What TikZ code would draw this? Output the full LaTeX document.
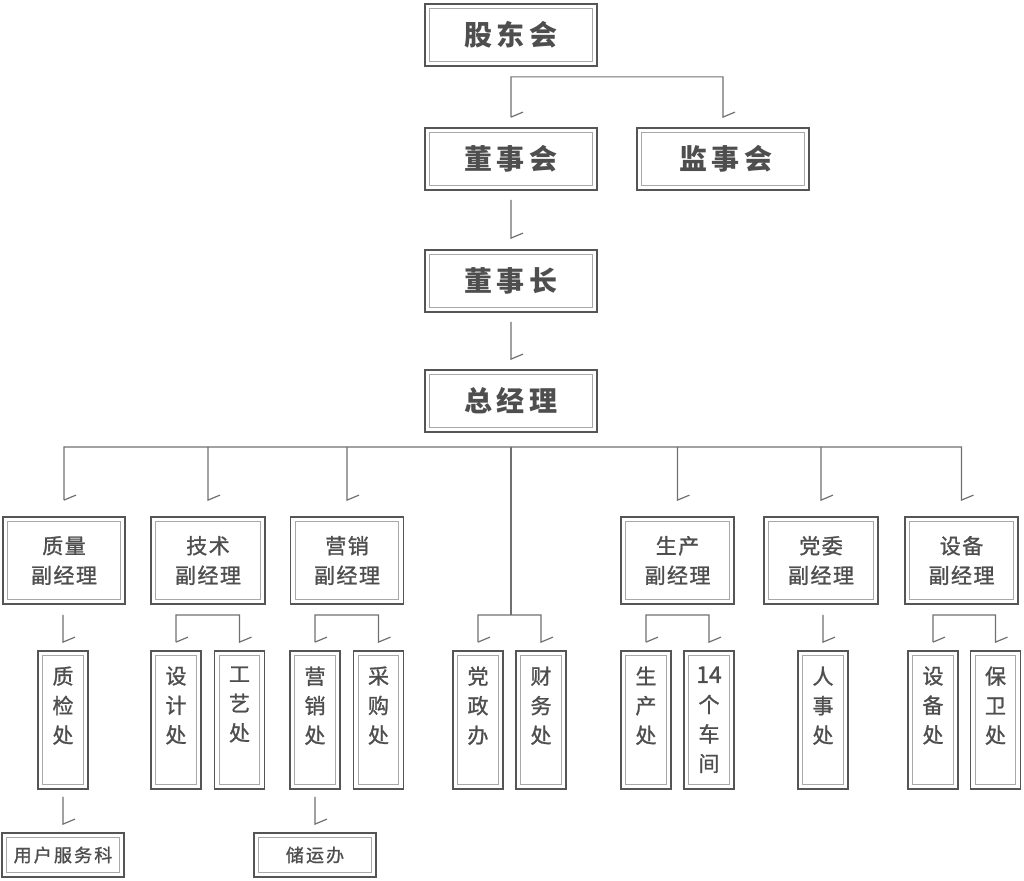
\documentclass[tikz,border=0pt]{standalone}
\usepackage{fontspec}
\newfontfamily\cjk{Noto Sans CJK SC}
\newfontfamily\cjkm{Noto Sans CJK SC}[FakeBold=1.2]
\definecolor{bord}{HTML}{555555}
\definecolor{inn}{HTML}{A8A8A8}
\definecolor{txt}{HTML}{4E4E4E}
\definecolor{ln}{HTML}{707070}
\begin{document}
\begin{tikzpicture}[x=1pt,y=-1pt,
  box/.style={draw=bord, line width=1.8pt, inner sep=0pt, text=txt, align=center,
    path picture={\draw[inn, line width=0.9pt]
      ([shift={(4.6pt,4.6pt)}]path picture bounding box.south west) rectangle
      ([shift={(-4.6pt,-4.6pt)}]path picture bounding box.north east);}},
  topbox/.style={box, minimum width=172pt, minimum height=62pt,
    font=\cjk\bfseries\fontsize{28}{30}\selectfont\addfontfeature{LetterSpace=15}},
  midbox/.style={box, minimum width=#1, minimum height=87pt,
    font=\cjkm\fontsize{21}{29.5}\selectfont\addfontfeature{LetterSpace=7}},
  vbox/.style={box, minimum width=50pt, minimum height=138pt,
    font=\cjkm\fontsize{21}{29.5}\selectfont},
  lowbox/.style={box, minimum width=122pt, minimum height=44pt,
    font=\cjkm\fontsize{18}{20}\selectfont\addfontfeature{LetterSpace=12}},
  conn/.style={draw=ln, line width=1.2pt, line join=miter}
]
\useasboundingbox (0,0) rectangle (1024,880);
\newcommand\vtext[1]{\parbox[c][107pt][t]{40pt}{\centering #1}}

% top levels
\node[topbox] (gd)  at (511,35)  {股东会};
\node[topbox] (dsh) at (511,159) {董事会};
\node[topbox] (jsh) at (723,159) {\hspace*{6pt}监事会};
\node[topbox] (dsz) at (511,281) {董事长};
\node[topbox] (zjl) at (511,401) {总经理};

% second level
\node[midbox=122pt] (zl) at (64,560.5)    {质量\\副经理};
\node[midbox=114pt] (js) at (208,560.5)   {技术\\副经理};
\node[midbox=113pt] (yx) at (347,560.5)   {营销\\副经理};
\node[midbox=113pt] (sc) at (677.5,560.5) {生产\\副经理};
\node[midbox=114pt] (dw) at (821,560.5)   {党委\\副经理};
\node[midbox=113pt] (sb) at (961.5,560.5) {设备\\副经理};

% third level
\node[vbox] (zjc) at (63,720)    {\vtext{质\\检\\处}};
\node[vbox] (sjc) at (176,720)   {\vtext{设\\计\\处}};
\node[vbox] (gyc) at (239.5,720) {\vtext{工\\艺\\处}};
\node[vbox] (yxc) at (315,720)   {\vtext{营\\销\\处}};
\node[vbox] (cgc) at (378.5,720) {\vtext{采\\购\\处}};
\node[vbox] (dzb) at (478,720)   {\vtext{党\\政\\办}};
\node[vbox] (cwc) at (541,720)   {\vtext{财\\务\\处}};
\node[vbox] (scc) at (646,720)   {\vtext{生\\产\\处}};
\node[vbox] (cj)  at (709,720)   {\vtext{{\fontsize{23}{29.5}\selectfont 14}\\个\\车\\间}};
\node[vbox] (rsc) at (823,720)   {\vtext{人\\事\\处}};
\node[vbox] (sbc) at (933,720)   {\vtext{设\\备\\处}};
\node[vbox] (bwc) at (995.5,720) {\vtext{保\\卫\\处}};

% fourth level
\node[lowbox] (yh) at (63,855)  {用户服务科};
\node[lowbox] (cy) at (315,855) {储运办};

% connectors: top
\coordinate (h1) at ([yshift=-10pt]gd.south);
\draw[conn] ([yshift=10pt]dsh.north) -- (dsh.north |- h1) -- (jsh.north |- h1)
  -- ([yshift=10pt]jsh.north) -- ++(12,-5);
\draw[conn] ([yshift=10pt]dsh.north) -- ++(12,-5);
\draw[conn] ([yshift=-9pt]dsh.south) -- ([yshift=11pt]dsz.north) -- ++(12,-5);
\draw[conn] ([yshift=-9pt]dsz.south) -- ([yshift=10pt]zjl.north) -- ++(12,-5);

% connectors: general manager
\coordinate (h2) at ([yshift=-14pt]zjl.south);
\draw[conn] ([yshift=16pt]zl.north) -- (zl.north |- h2) -- (sb.north |- h2)
  -- ([yshift=16pt]sb.north) -- ++(12,-5);
\draw[conn] ([yshift=16pt]zl.north) -- ++(12,-5);
\foreach \n in {js,yx,sc,dw}{
  \draw[conn] (\n.north |- h2) -- ([yshift=16pt]\n.north) -- ++(12,-5);
}
\coordinate (h3) at ([yshift=-10pt]zl.south);
\draw[conn] (h2) -- (h2 |- h3);
\draw[conn] ([yshift=8pt]dzb.north) -- (dzb.north |- h3) -- (cwc.north |- h3)
  -- ([yshift=8pt]cwc.north) -- ++(12,-5);
\draw[conn] ([yshift=8pt]dzb.north) -- ++(12,-5);

% connectors: third level
\draw[conn] (zjc.north |- h3) -- ([yshift=8pt]zjc.north) -- ++(12,-5);
\draw[conn] (rsc.north |- h3) -- ([yshift=8pt]rsc.north) -- ++(12,-5);
\foreach \a/\b in {sjc/gyc, yxc/cgc, scc/cj, sbc/bwc}{
  \draw[conn] ([yshift=8pt]\a.north) -- (\a.north |- h3) -- (\b.north |- h3)
    -- ([yshift=8pt]\b.north) -- ++(12,-5);
  \draw[conn] ([yshift=8pt]\a.north) -- ++(12,-5);
}

% connectors: fourth level
\draw[conn] ([yshift=-7pt]zjc.south) -- ([yshift=8pt]yh.north) -- ++(12,-5);
\draw[conn] ([yshift=-7pt]yxc.south) -- ([yshift=8pt]cy.north) -- ++(12,-5);
\end{tikzpicture}
\end{document}
